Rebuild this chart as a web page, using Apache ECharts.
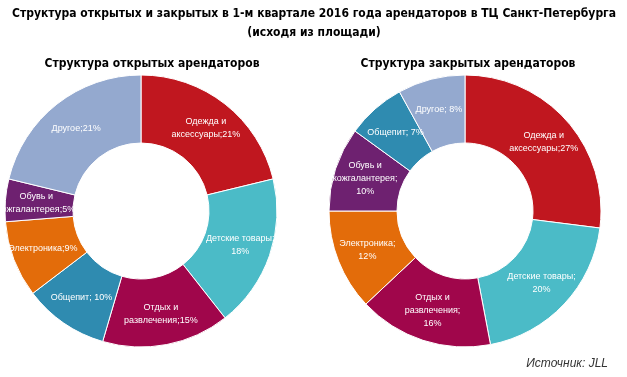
<!DOCTYPE html>
<html>
<head>
<meta charset="utf-8">
<script src="https://cdn.jsdelivr.net/npm/echarts@6/dist/echarts.min.js"></script>
<style>
  html, body { margin: 0; padding: 0; background: #fff; }
  #chart { width: 627px; height: 377px; }
</style>
</head>
<body>
<div id="chart"></div>
<script>
  // открытые арендаторы
  var leftNames = ['Одежда и аксессуары', 'Детские товары', 'Отдых и развлечения', 'Общепит', 'Электроника', 'Обувь и кожгалантерея', 'Другое']
  var leftValues = [21, 18, 15, 10, 9, 5, 21]
  var leftLabels = ['Одежда и\nаксессуары;21%', 'Детские товары;\n18%', 'Отдых и\nразвлечения;15%', 'Общепит; 10%', 'Электроника;9%', 'Обувь и\nкожгалантерея;5%', 'Другое;21%']

  // закрытые арендаторы
  var rightNames = ['Одежда и аксессуары', 'Детские товары', 'Отдых и развлечения', 'Электроника', 'Обувь и кожгалантерея', 'Общепит', 'Другое']
  var rightValues = [27, 20, 16, 12, 10, 7, 8]
  var rightLabels = ['Одежда и\nаксессуары;27%', 'Детские товары;\n20%', 'Отдых и\nразвлечения;\n16%', 'Электроника;\n12%', 'Обувь и\nкожгалантерея;\n10%', 'Общепит; 7%', 'Другое; 8%']

  var colorOf = {
    'Одежда и аксессуары': '#c0171f',
    'Детские товары': '#4bbbc7',
    'Отдых и развлечения': '#a0064b',
    'Общепит': '#2f8bb0',
    'Электроника': '#e36c0a',
    'Обувь и кожгалантерея': '#6e2170',
    'Другое': '#94a9cf'
  }

  function buildData(names, values, labels) {
    var out = []
    for (var i = 0; i < names.length; i++) {
      out.push({
        name: names[i],
        value: values[i],
        lbl: labels[i],
        itemStyle: { color: colorOf[names[i]] }
      })
    }
    return out
  }

  function donut(center, data) {
    return {
      type: 'pie',
      center: center,
      radius: [68, 136],
      startAngle: 90,
      clockwise: true,
      avoidLabelOverlap: false,
      silent: true,
      itemStyle: { borderColor: '#fff', borderWidth: 1 },
      label: {
        show: true,
        position: 'inside',
        color: '#fff',
        fontFamily: 'Liberation Sans, Arial, sans-serif',
        fontSize: 9,
        lineHeight: 13,
        formatter: function (p) { return p.data.lbl }
      },
      labelLine: { show: false },
      data: data
    }
  }

  var headFont = 'DejaVu Sans Condensed, Liberation Sans, sans-serif'

  var chart = echarts.init(document.getElementById('chart'))
  var option = {
    animation: false,
    title: [
      {
        text: 'Структура открытых и закрытых в 1-м квартале 2016 года арендаторов в ТЦ Санкт-Петербурга\n(исходя из площади)',
        left: 309,
        top: -1,
        textAlign: 'center',
        textStyle: {
          fontFamily: headFont,
          fontSize: 12,
          fontWeight: 'bold',
          lineHeight: 19,
          color: '#000'
        }
      },
      {
        text: 'Структура открытых арендаторов',
        left: 147,
        top: 53,
        textAlign: 'center',
        textStyle: { fontFamily: headFont, fontSize: 12, fontWeight: 'bold', color: '#000' }
      },
      {
        text: 'Структура закрытых арендаторов',
        left: 463,
        top: 53,
        textAlign: 'center',
        textStyle: { fontFamily: headFont, fontSize: 12, fontWeight: 'bold', color: '#000' }
      },
      {
        text: 'Источник: JLL',
        right: 14,
        top: 353,
        textStyle: {
          fontFamily: 'Liberation Sans, Arial, sans-serif',
          fontSize: 12,
          fontStyle: 'italic',
          fontWeight: 'normal',
          color: '#333'
        }
      }
    ],
    series: [
      donut([141, 211], buildData(leftNames, leftValues, leftLabels)),
      donut([465, 211], buildData(rightNames, rightValues, rightLabels))
    ]
  }
  chart.setOption(option)
</script>
</body>
</html>
